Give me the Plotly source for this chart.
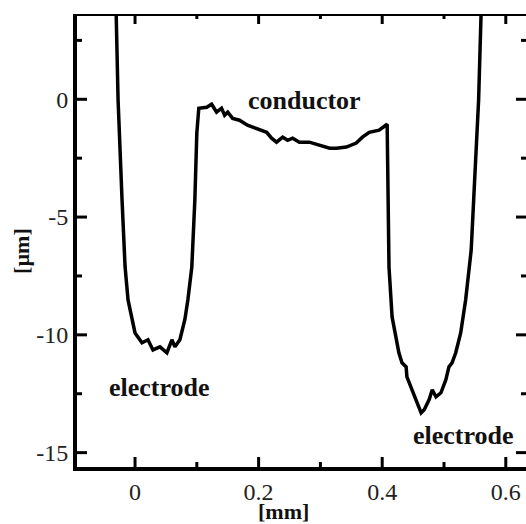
import plotly.graph_objects as go

# Profile trace: position [mm] and height [um]
x_mm = [-0.031, -0.0306, -0.0274, -0.021, -0.0161, -0.0113, -0.0048, 0.0, 0.0113, 0.021,
        0.029, 0.0403, 0.0516, 0.0597, 0.0645, 0.0726, 0.0806, 0.0855, 0.0919, 0.0968,
        0.100, 0.1016, 0.1032, 0.116, 0.124, 0.132, 0.140, 0.145, 0.150, 0.158,
        0.169, 0.182, 0.197, 0.213, 0.221, 0.229, 0.239, 0.247, 0.255, 0.266,
        0.282, 0.298, 0.315, 0.326, 0.342, 0.358, 0.368, 0.379, 0.395, 0.408,
        0.4097, 0.411, 0.416, 0.4226, 0.427, 0.432, 0.4387, 0.440, 0.448, 0.456,
        0.463, 0.468, 0.476, 0.481, 0.487, 0.495, 0.503, 0.508, 0.513, 0.519,
        0.527, 0.535, 0.544, 0.548, 0.553, 0.556, 0.560, 0.561]
z_um = [4.2, 3.64, -0.04, -4.28, -7.12, -8.52, -9.36, -9.92, -10.34, -10.21,
        -10.64, -10.51, -10.76, -10.21, -10.51, -10.21, -9.36, -8.52, -7.12, -4.28,
        -1.44, -0.59, -0.38, -0.34, -0.21, -0.55, -0.38, -0.68, -0.55, -0.81,
        -0.89, -1.10, -1.23, -1.40, -1.65, -1.82, -1.61, -1.74, -1.65, -1.82,
        -1.82, -1.95, -2.08, -2.08, -2.03, -1.86, -1.61, -1.40, -1.31, -1.06,
        -4.28, -7.12, -9.24, -10.21, -10.76, -11.19, -11.36, -11.78, -12.33, -12.88,
        -13.31, -13.18, -12.75, -12.33, -12.63, -12.46, -11.91, -11.36, -11.19, -10.76,
        -9.92, -8.52, -6.40, -4.28, -1.44, -0.04, 3.64, 4.2]

# Tick values and labels
x_tickvals = [0, 0.2, 0.4, 0.6]
x_ticktext = ["0", "0.2", "0.4", "0.6"]
x_minor = [0.1, 0.3, 0.5]
y_tickvals = [0, -5, -10, -15]
y_ticktext = ["0", "-5", "-10", "-15"]
y_minor = [2.5, -2.5, -7.5, -12.5]

# Text labels
label_text = ["conductor", "electrode", "electrode"]
label_x = [0.274, 0.040, 0.532]
label_y = [-0.07, -12.25, -14.29]
x_title = "[mm]"
y_title = "[\u00b5m]"

serif = "Liberation Serif"
XR = [-0.0939, 0.6327]
YR = [-15.61, 3.62]

W, H = 526, 524
M = dict(l=77, r=0, t=14, b=57)
# data units per pixel, used to give inward tick marks a fixed pixel length
px_x = (XR[1] - XR[0]) / (W - M["l"] - M["r"])
px_y = (YR[1] - YR[0]) / (H - M["t"] - M["b"])

# inward tick marks on all four sides, built from the tick value lists
tx, ty = [], []
for vals, ln in [(x_tickvals, 10), (x_minor, 5)]:
    for v in vals:
        tx += [v, v, None, v, v, None]
        ty += [YR[0], YR[0] + ln * px_y, None, YR[1], YR[1] - ln * px_y, None]
for vals, ln in [(y_tickvals, 10), (y_minor, 5)]:
    for v in vals:
        tx += [XR[0], XR[0] + ln * px_x, None, XR[1], XR[1] - ln * px_x, None]
        ty += [v, v, None, v, v, None]

fig = go.Figure()
fig.add_trace(go.Scatter(x=x_mm, y=z_um, mode="lines",
                         line=dict(color="black", width=3.5)))
fig.add_trace(go.Scatter(x=tx, y=ty, mode="lines", cliponaxis=False,
                         line=dict(color="black", width=3)))
# top frame line
fig.add_trace(go.Scatter(x=XR, y=[YR[1], YR[1]], mode="lines", cliponaxis=False,
                         line=dict(color="black", width=4)))

for t, ax_, ay_ in zip(label_text, label_x, label_y):
    fig.add_annotation(x=ax_, y=ay_, xref="x", yref="y", text="<b>" + t + "</b>",
                       showarrow=False, font=dict(family=serif, size=26, color="#111111"))

fig.add_annotation(x=0.461, y=-0.099, xref="paper", yref="paper", text="<b>" + x_title + "</b>",
                   xanchor="center", yanchor="middle",
                   showarrow=False, font=dict(family=serif, size=22, color="#111111"))
fig.add_annotation(x=-0.1225, y=0.477, xref="paper", yref="paper", text="<b>" + y_title + "</b>",
                   xanchor="center", yanchor="middle", textangle=-90, showarrow=False,
                   font=dict(family=serif, size=22, color="#111111"))

tickfont = dict(family=serif, size=24, color="#222222")
fig.update_layout(
    width=W, height=H,
    margin=M,
    plot_bgcolor="white",
    showlegend=False,
    xaxis=dict(range=XR, tickmode="array", tickvals=x_tickvals, ticktext=x_ticktext,
               showline=True, linewidth=4, linecolor="black",
               showgrid=False, zeroline=False, tickfont=tickfont),
    yaxis=dict(range=YR, tickmode="array", tickvals=y_tickvals, ticktext=y_ticktext,
               showline=True, linewidth=4, linecolor="black",
               showgrid=False, zeroline=False, tickfont=tickfont),
)

fig.write_html("out.html")
